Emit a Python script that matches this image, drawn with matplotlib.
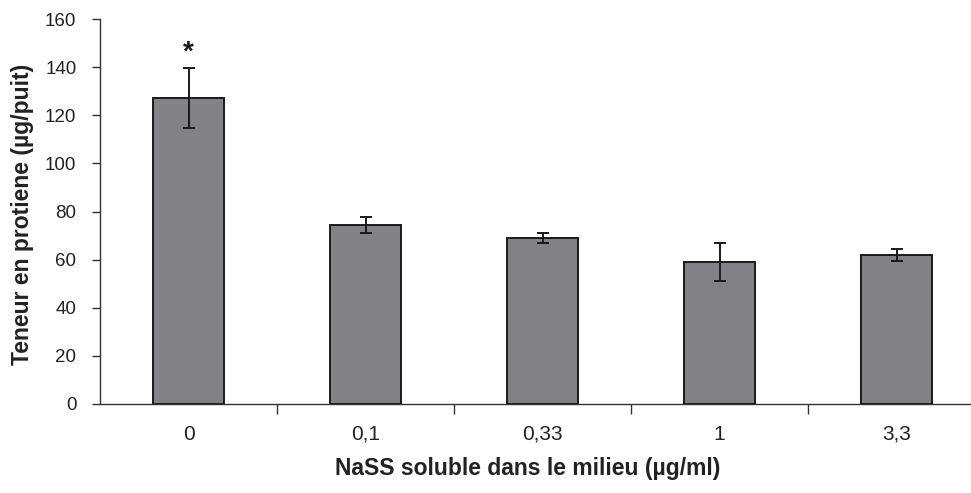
import matplotlib
matplotlib.use("Agg")
import matplotlib.pyplot as plt

plt.rcParams['font.family'] = ['Liberation Sans', 'DejaVu Sans']

categories = ["0", "0,1", "0,33", "1", "3,3"]
values = [127, 74.5, 69, 59, 62]
errors = [12.5, 3.3, 2.0, 8.0, 2.5]
significance = ["*", "", "", "", ""]

W, H = 971, 493
fig = plt.figure(figsize=(W / 100, H / 100), dpi=100)
ax = fig.add_axes([100 / W, 89 / H, 885 / W, 385 / H])

x = list(range(len(categories)))
ax.bar(x, values, width=0.405, color="#818286", edgecolor="#1a1a1a", linewidth=1.4, zorder=2)
ax.errorbar(x, values, yerr=errors, fmt="none", ecolor="#1a1a1a",
            elinewidth=1.4, capsize=4.5, capthick=1.4, zorder=3)

for xi, v, e, s in zip(x, values, errors, significance):
    if s:
        ax.text(xi, v + e + 1, s, ha="center", va="bottom", fontsize=20, fontweight="bold", color="#1a1a1a")

ax.set_xlim(-0.5, len(categories) - 0.5)
ax.set_ylim(0, 160)
ax.set_yticks(range(0, 161, 20))

# category labels centred, ticks at category boundaries
ax.set_xticks([i + 0.5 for i in range(len(categories) - 1)])
ax.set_xticklabels([])
ax.set_xticks(x, minor=True)
ax.set_xticklabels(categories, minor=True)
ax.tick_params(axis="x", which="minor", length=0, pad=15, labelsize=15, labelcolor="#222222")
ax.tick_params(axis="x", which="major", direction="out", length=7, width=1, color="#333333")
ax.tick_params(axis="y", direction="out", length=6, width=1, color="#333333",
               pad=11, labelsize=13.5, labelcolor="#222222")

for side in ("top", "right"):
    ax.spines[side].set_visible(False)
for side in ("left", "bottom"):
    ax.spines[side].set_color("#333333")
    ax.spines[side].set_linewidth(1.0)

fig.text(528 / W, 1 - 469 / H, "NaSS soluble dans le milieu (µg/ml)", ha="center", va="center",
         fontsize=16.5, fontweight="bold", color="#222222")
fig.text(23 / W, 1 - 214 / H, "Teneur en protiene (µg/puit)", ha="center", va="center",
         rotation=90, fontsize=16.5, fontweight="bold", color="#222222")

fig.savefig("out.png", dpi=100)
